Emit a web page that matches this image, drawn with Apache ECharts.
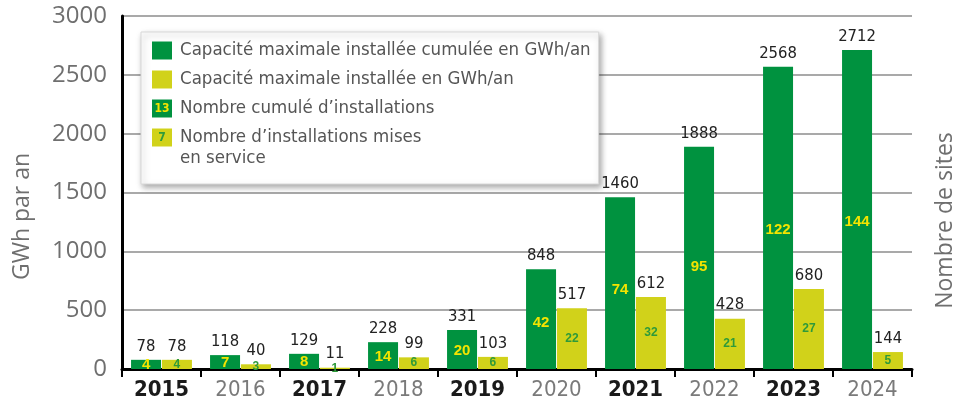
<!DOCTYPE html>
<html>
<head>
<meta charset="utf-8">
<script src="https://cdn.jsdelivr.net/npm/echarts@6/dist/echarts.min.js"></script>
<style>
    html, body { margin: 0; padding: 0; background: #fff; }
    #chart { width: 965px; height: 403px; }
</style>
</head>
<body>
<div id="chart"></div>
<script>
// données
var annees = ['2015', '2016', '2017', '2018', '2019', '2020', '2021', '2022', '2023', '2024'];
var capaciteCumulee = [78, 118, 129, 228, 331, 848, 1460, 1888, 2568, 2712];
var capaciteAnnuelle = [78, 40, 11, 99, 103, 517, 612, 428, 680, 144];
var nombreCumule = [4, 7, 8, 14, 20, 42, 74, 95, 122, 144];
var nombreMisEnService = [4, 3, 1, 6, 6, 22, 32, 21, 27, 5];
var yMin = 0;
var yMax = 3000;
var yInterval = 500;

var VERT = '#00923f';
var JAUNE = '#d1d21a';
var TEXTE_JAUNE = '#f4e400';
var TEXTE_VERT = '#2e9a3a';
var NARROW = '"Liberation Sans Narrow", "DejaVu Sans Condensed", "Arial Narrow", sans-serif';
var SANS = '"Open Sans", "Noto Sans", sans-serif';

var noms = [
    'Capacité maximale installée cumulée en GWh/an',
    'Capacité maximale installée en GWh/an',
    'Nombre cumulé d’installations',
    'Nombre d’installations mises en service'
];

var chart = echarts.init(document.getElementById('chart'), null, {renderer: 'canvas'});

//légende : pastilles dessinées en texte riche
var legendFormatter = function (name) {
    if (name === noms[0]) return '{g|}{t|' + name + '}';
    if (name === noms[1]) return '{y|}{t|' + name + '}';
    if (name === noms[2]) return '{c|13}{t|' + name + '}';
    return '{s|7}{t|Nombre d’installations mises}\n{sp|}{t|en service}';
};

var barLabelTop = {
    show: true,
    position: 'top',
    distance: 5,
    color: '#222',
    fontFamily: NARROW,
    fontSize: 16.5
};

var option = {
    animation: false,
    grid: {
        left: 122,
        top: 16,
        width: 800,
        bottom: 34
    },
    legend: {
        data: noms,
        orient: 'vertical',
        left: 141,
        top: 32,
        padding: [9, 8, 16, 6],
        itemWidth: 0,
        itemHeight: 0,
        itemGap: 10,
        selectedMode: false,
        backgroundColor: '#fff',
        borderColor: '#d8d8d8',
        borderWidth: 1,
        shadowBlur: 6,
        shadowColor: 'rgba(0,0,0,0.35)',
        shadowOffsetX: 2,
        shadowOffsetY: 3,
        formatter: legendFormatter,
        textStyle: {
            rich: {
                g: {backgroundColor: VERT, width: 20, height: 18},
                y: {backgroundColor: JAUNE, width: 20, height: 18},
                c: {backgroundColor: VERT, width: 20, height: 18, color: TEXTE_JAUNE, fontWeight: 'bold',
                    fontSize: 12, fontFamily: NARROW, align: 'center'},
                s: {backgroundColor: JAUNE, width: 20, height: 18, color: TEXTE_VERT, fontWeight: 'bold',
                    fontSize: 12, fontFamily: NARROW, align: 'center'},
                sp: {width: 20, height: 18},
                t: {color: '#555', fontFamily: NARROW, fontSize: 18.5, lineHeight: 21, padding: [0, 0, 0, 8]}
            }
        }
    },
    xAxis: [
        {
            type: 'category',
            data: annees,
            axisLine: {lineStyle: {color: '#000', width: 3}},
            axisTick: {show: true, length: 8, lineStyle: {color: '#000', width: 2}},
            axisLabel: {
                margin: 10,
                formatter: function (v, i) {
                    return i % 2 === 0 ? '{b|' + v + '}' : '{n|' + v + '}';
                },
                rich: {
                    b: {color: '#1a1a1a', fontFamily: NARROW, fontSize: 22, fontWeight: 'bold'},
                    n: {color: '#7a7a7a', fontFamily: NARROW, fontSize: 22}
                }
            }
        },
        {
            type: 'category',
            data: annees,
            show: false
        }
    ],
    yAxis: [
        {
            type: 'value',
            min: yMin,
            max: yMax,
            interval: yInterval,
            name: 'GWh par an',
            nameLocation: 'middle',
            nameGap: 88,
            nameTextStyle: {color: '#6f6f6f', fontFamily: SANS, fontSize: 23, padding: [0, 48, 0, 0]},
            axisLine: {show: true, lineStyle: {color: '#000', width: 3}},
            axisTick: {show: false},
            axisLabel: {
                color: '#6f6f6f',
                fontFamily: SANS,
                fontSize: 24,
                margin: 15,
                formatter: function (v) {
                    return String(v);
                }
            },
            splitLine: {lineStyle: {color: '#8c8c8c', width: 1.5}}
        },
        {
            type: 'value',
            position: 'right',
            min: yMin,
            max: yMax,
            interval: yInterval,
            name: 'Nombre de sites',
            nameLocation: 'middle',
            nameGap: 22,
            nameTextStyle: {color: '#6f6f6f', fontFamily: SANS, fontSize: 23, padding: [0, 56, 0, 0]},
            axisLine: {show: false},
            axisTick: {show: false},
            axisLabel: {show: false},
            splitLine: {show: false}
        }
    ],
    series: [
        {
            name: noms[0],
            type: 'bar',
            barWidth: 30,
            barGap: '3%',
            itemStyle: {color: VERT},
            label: barLabelTop,
            data: capaciteCumulee
        },
        {
            name: noms[1],
            type: 'bar',
            barWidth: 30,
            barGap: '3%',
            itemStyle: {color: JAUNE},
            label: barLabelTop,
            data: capaciteAnnuelle
        },
        //nombre de sites, écrit dans les barres
        {
            name: noms[2],
            type: 'bar',
            xAxisIndex: 1,
            barWidth: 30,
            barGap: '3%',
            silent: true,
            itemStyle: {color: 'rgba(0,0,0,0)'},
            label: {
                show: true,
                position: ['50%', '54%'],
                align: 'center',
                verticalAlign: 'middle',
                color: TEXTE_JAUNE,
                fontWeight: 'bold',
                fontFamily: '"Liberation Sans", Arial, sans-serif',
                fontSize: 15,
                formatter: function (p) {
                    return nombreCumule[p.dataIndex];
                }
            },
            data: capaciteCumulee
        },
        {
            name: noms[3],
            type: 'bar',
            xAxisIndex: 1,
            barWidth: 30,
            barGap: '3%',
            silent: true,
            itemStyle: {color: 'rgba(0,0,0,0)'},
            label: {
                show: true,
                position: ['50%', '50%'],
                align: 'center',
                verticalAlign: 'middle',
                color: TEXTE_VERT,
                fontWeight: 'bold',
                fontFamily: '"Liberation Sans", Arial, sans-serif',
                fontSize: 12,
                formatter: function (p) {
                    return nombreMisEnService[p.dataIndex];
                }
            },
            data: capaciteAnnuelle
        }
    ]
};

chart.setOption(option);
</script>
</body>
</html>
